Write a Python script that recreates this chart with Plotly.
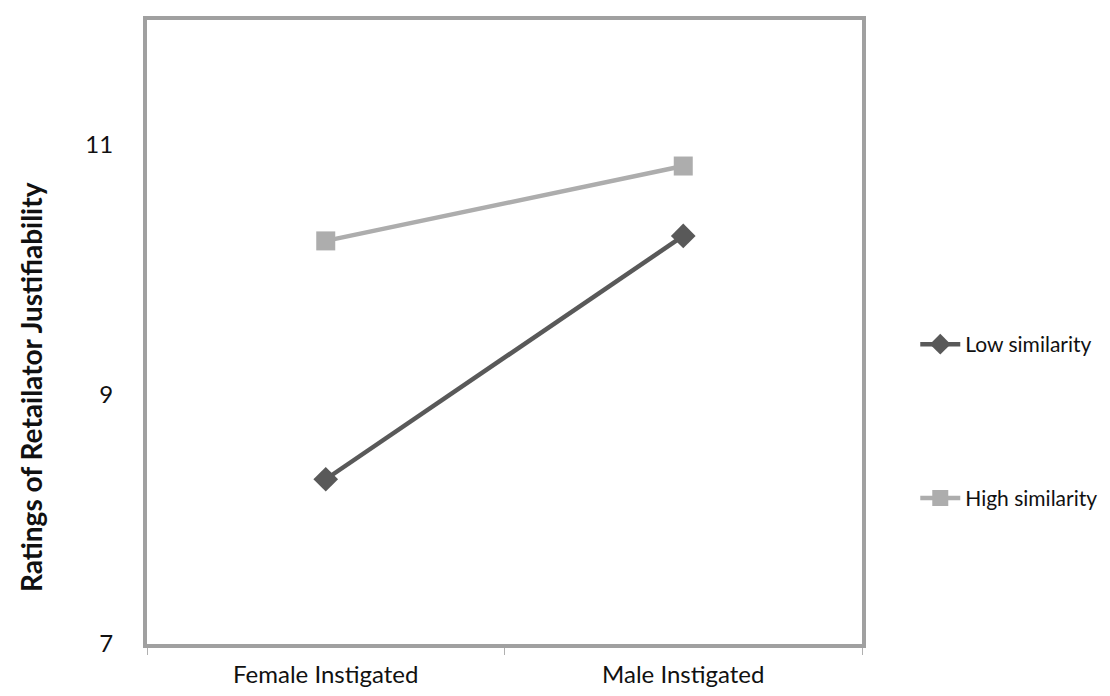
import plotly.graph_objects as go

categories = ["Female Instigated", "Male Instigated"]
low_similarity = [8.32, 10.27]
high_similarity = [10.23, 10.83]
y_ticks = [7, 9, 11]
y_title = "Ratings of Retailator Justifiability"

FONT = "Lato"
fig = go.Figure()
fig.add_trace(go.Scatter(
    x=categories, y=low_similarity, name="Low similarity", mode="lines+markers",
    line=dict(color="#595959", width=4.5),
    marker=dict(symbol="diamond", size=19, color="#595959"),
    legend="legend",
))
fig.add_trace(go.Scatter(
    x=categories, y=high_similarity, name="High similarity", mode="lines+markers",
    line=dict(color="#adadad", width=4.5),
    marker=dict(symbol="square", size=19, color="#adadad"),
    legend="legend2",
))

fig.add_annotation(
    text="<b>" + y_title + "</b>", textangle=-90,
    xref="paper", yref="paper", x=-0.1622, y=0.4119,
    xanchor="center", yanchor="middle", showarrow=False,
    font=dict(family=FONT, size=28, color="#111111"),
)

fig.update_layout(
    width=1110, height=696, showlegend=True,
    margin=dict(l=139, r=256, t=12, b=60, autoexpand=False),
    paper_bgcolor="white", plot_bgcolor="white",
    font=dict(family=FONT, size=24, color="#111111"),
    legend=dict(x=1.0745, y=0.480, xanchor="left", yanchor="middle",
                font=dict(family=FONT, size=21, color="#111111"),
                itemwidth=40, bgcolor="rgba(0,0,0,0)"),
    legend2=dict(x=1.0745, y=0.2335, xanchor="left", yanchor="middle",
                 font=dict(family=FONT, size=21, color="#111111"),
                 itemwidth=40, bgcolor="rgba(0,0,0,0)"),
    xaxis=dict(
        type="category", range=[-0.5, 1.5], automargin=False,
        showgrid=False, zeroline=False,
        showline=True, linecolor="#a0a0a0", linewidth=4, mirror=True,
        ticks="outside", tickson="boundaries", ticklen=7, tickwidth=1,
        tickcolor="#b0b0b0", ticklabelstandoff=6,
        tickfont=dict(family=FONT, size=24, color="#111111"),
    ),
    yaxis=dict(
        range=[7, 12], tickvals=y_ticks, automargin=False,
        showgrid=False, zeroline=False,
        showline=True, linecolor="#a0a0a0", linewidth=4, mirror=True,
        ticks="", ticklabelstandoff=25,
        tickfont=dict(family=FONT, size=24, color="#111111"),
    ),
)

fig.write_html("out.html")
